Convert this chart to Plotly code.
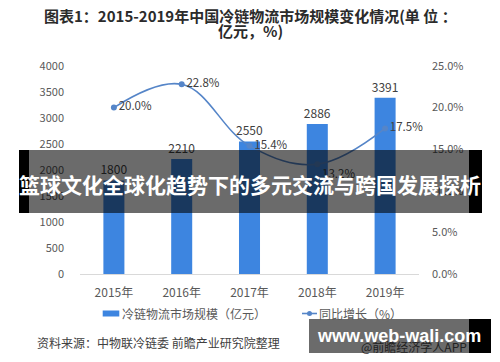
import plotly.graph_objects as go

# ---- data ----
years = ["2015年", "2016年", "2017年", "2018年", "2019年"]
market_size = [1800, 2210, 2550, 2886, 3391]          # 亿元
growth_pct = [20.0, 22.8, 15.4, 13.2, 17.5]           # %
growth_pos = ["middle right", "middle right", "middle right", "bottom right", "middle right"]
left_ticks = [0, 500, 1000, 1500, 2000, 2500, 3000, 3500, 4000]
right_ticks = [0, 0.05, 0.10, 0.15, 0.20, 0.25]

title_l1 = "图表1：2015-2019年中国冷链物流市场规模变化情况(单 位 ："
title_l2 = "亿元，%)"
legend_bar = "冷链物流市场规模（亿元）"
legend_line = "同比增长（%）"
source_txt = "资料来源：中物联冷链委 前瞻产业研究院整理"
credit_txt = "@前瞻经济学人APP"
banner_txt = "篮球文化全球化趋势下的多元交流与跨国发展探析"
watermark_txt = "www.web-wali.com"

# ---- layout geometry (pixels) ----
W, H = 500, 362
L, R, T, B = 80, 81, 66, 88
PW, PH = W - L - R, H - T - B
BOTTOM = H - B

def px(x):
    return (x - L) / PW

def py(y):
    return (BOTTOM - y) / PH

FONT = "Noto Sans CJK SC"
BAR_C = "#3d85e0"
LINE_C = "#5585c8"

fig = go.Figure()
fig.add_trace(go.Bar(
    x=years, y=market_size, width=0.31, marker=dict(color=BAR_C, line=dict(width=0)),
    text=[str(v) for v in market_size], textposition="outside", constraintext="none",
    textfont=dict(size=12, color="#404040", family=FONT), cliponaxis=False,
    showlegend=False, hoverinfo="skip",
))
fig.add_trace(go.Scatter(
    x=years, y=[g / 100 for g in growth_pct], yaxis="y2",
    mode="lines+markers+text", line=dict(color=LINE_C, width=1.6, shape="spline", smoothing=1.1),
    marker=dict(size=6, color=LINE_C),
    text=[f"{g:.1f}%" for g in growth_pct], textposition=growth_pos,
    textfont=dict(size=11.5, color="#404040", family=FONT), cliponaxis=False,
    showlegend=False, hoverinfo="skip",
))

shapes = []
annotations = []

# titles
annotations.append(dict(text="<b>" + title_l1 + "</b>", x=px(250), xref="paper", y=py(16), yref="paper",
                        xanchor="center", yanchor="middle", showarrow=False,
                        font=dict(size=15, color="#2b2b2b", family=FONT)))
annotations.append(dict(text="<b>" + title_l2 + "</b>", x=px(250), xref="paper", y=py(31), yref="paper",
                        xanchor="center", yanchor="middle", showarrow=False,
                        font=dict(size=15, color="#2b2b2b", family=FONT)))

# legend (manual)
shapes.append(dict(type="rect", xref="paper", yref="paper", x0=px(102.7), x1=px(119.3),
                   y0=py(316.5), y1=py(310.5), fillcolor=BAR_C, line=dict(width=0), layer="above"))
annotations.append(dict(text=legend_bar, x=px(120), xref="paper", y=py(313.5), yref="paper",
                        xanchor="left", yanchor="middle", showarrow=False,
                        font=dict(size=12, color="#595959", family=FONT)))
shapes.append(dict(type="line", xref="paper", yref="paper", x0=px(302), x1=px(317),
                   y0=py(313.5), y1=py(313.5), line=dict(color=LINE_C, width=1.6), layer="above"))
shapes.append(dict(type="circle", xref="paper", yref="paper", x0=px(307), x1=px(312),
                   y0=py(316), y1=py(311), fillcolor=LINE_C, line=dict(width=0), layer="above"))
annotations.append(dict(text=legend_line, x=px(317), xref="paper", y=py(313.5), yref="paper",
                        xanchor="left", yanchor="middle", showarrow=False,
                        font=dict(size=12, color="#595959", family=FONT)))

# source
annotations.append(dict(text=source_txt, x=px(35), xref="paper", y=py(342), yref="paper",
                        xanchor="left", yanchor="middle", showarrow=False,
                        font=dict(size=12, color="#404040", family=FONT)))

# banner overlay
shapes.append(dict(type="rect", xref="paper", yref="paper", x0=px(19), x1=px(29),
                   y0=py(213), y1=py(150), fillcolor="black", line=dict(width=0), layer="above"))
shapes.append(dict(type="rect", xref="paper", yref="paper", x0=px(29), x1=px(469),
                   y0=py(213), y1=py(150), fillcolor="rgba(0,0,0,0.58)", line=dict(width=0), layer="above"))
shapes.append(dict(type="rect", xref="paper", yref="paper", x0=px(469), x1=px(482),
                   y0=py(213), y1=py(150), fillcolor="black", line=dict(width=0), layer="above"))
annotations.append(dict(text="<b>" + banner_txt + "</b>", x=px(250), xref="paper", y=py(184), yref="paper",
                        xanchor="center", yanchor="middle", showarrow=False,
                        font=dict(size=21, color="white", family=FONT)))

# watermark overlay
shapes.append(dict(type="rect", xref="paper", yref="paper", x0=px(309), x1=px(469),
                   y0=py(353), y1=py(319), fillcolor="rgba(0,0,0,0.58)", line=dict(width=0), layer="above"))
shapes.append(dict(type="rect", xref="paper", yref="paper", x0=px(469), x1=px(491),
                   y0=py(353), y1=py(319), fillcolor="black", line=dict(width=0), layer="above"))
annotations.append(dict(text=credit_txt, x=px(414), xref="paper", y=py(346), yref="paper",
                        xanchor="center", yanchor="middle", showarrow=False,
                        font=dict(size=12, color="#222222", family=FONT)))
annotations.append(dict(text="<b>" + watermark_txt + "</b>", x=px(398.5), xref="paper", y=py(335.5), yref="paper",
                        xanchor="center", yanchor="middle", showarrow=False,
                        font=dict(size=18, color="white", family="Liberation Sans")))

fig.update_layout(
    width=W, height=H, margin=dict(l=L, r=R, t=T, b=B, autoexpand=False),
    paper_bgcolor="white", plot_bgcolor="white",
    font=dict(family=FONT, size=12, color="#595959"),
    bargap=0.69, showlegend=False, hovermode=False,
    xaxis=dict(showline=True, linecolor="#d9d9d9", linewidth=1, ticks="", showgrid=False,
               tickfont=dict(size=12, color="#595959", family=FONT), ticklabelstandoff=8,
               fixedrange=True),
    yaxis=dict(range=[0, 4000], tickvals=left_ticks, showgrid=False, zeroline=False, showline=False,
               tickfont=dict(size=11, color="#595959", family=FONT), ticklabelstandoff=15),
    yaxis2=dict(range=[0, 0.25], tickvals=right_ticks, tickformat=".1%", overlaying="y", side="right",
                showgrid=False, zeroline=False, showline=False,
                tickfont=dict(size=11, color="#595959", family=FONT), ticklabelstandoff=12),
    shapes=shapes, annotations=annotations,
)

fig.write_html("out.html", config={"displayModeBar": False, "staticPlot": True},
               post_script="document.body.style.margin='0';document.body.style.overflow='hidden';")
